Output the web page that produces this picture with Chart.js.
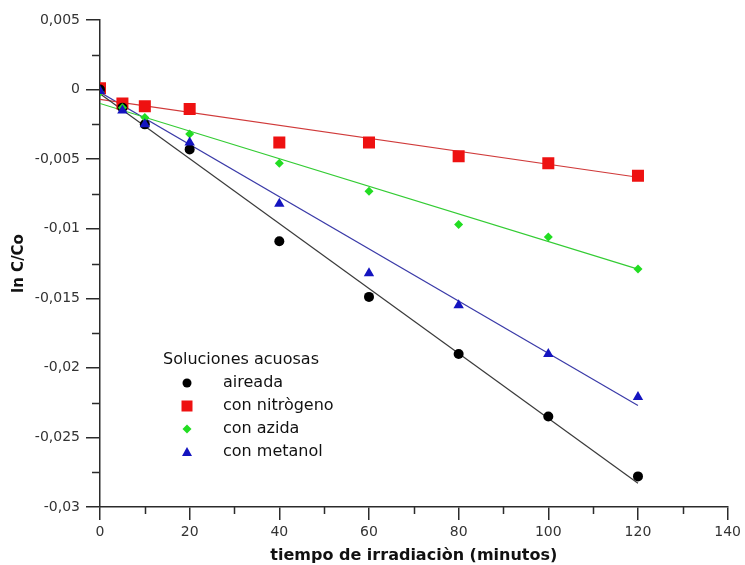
<!DOCTYPE html>
<html>
<head>
<meta charset="utf-8">
<script src="https://cdn.jsdelivr.net/npm/chart.js"></script>
<style>
  html, body { margin: 0; padding: 0; background: #fff; }
  #wrap { width: 745px; height: 565px; }
</style>
</head>
<body>
<div id="wrap"><canvas id="chart" width="745" height="565"></canvas></div>
<script>
// tiempo de irradiación (min)
const tiempos = [0, 5, 10, 20, 40, 60, 80, 100, 120];

// ln C/Co
const aireada = [0, -0.0013, -0.0025, -0.0043, -0.0109, -0.0149, -0.019, -0.0235, -0.0278];
const nitrogeno = [0.0001, -0.001, -0.0012, -0.0014, -0.0038, -0.0038, -0.0048, -0.0053, -0.0062];
const azida = [-0.0002, -0.0013, -0.002, -0.0032, -0.0053, -0.0073, -0.0097, -0.0106, -0.0129];
const metanol = [-0.0001, -0.0015, -0.0025, -0.0038, -0.0082, -0.0132, -0.0155, -0.019, -0.0221];

// fitted lines, end points as drawn
const ajusteX = [0, 120];
const ajusteAireada = [-0.0003, -0.0283];
const ajusteNitrogeno = [-0.0007, -0.0063];
const ajusteAzida = [-0.001, -0.0129];
const ajusteMetanol = [-0.0002, -0.0227];

const xMinor = [10, 30, 50, 70, 90, 110, 130];
const yMinor = [0.0025, -0.0025, -0.0075, -0.0125, -0.0175, -0.0225, -0.0275];

const legendTitle = "Soluciones acuosas";
const legendLabels = ["aireada", "con nitrògeno", "con azida", "con metanol"];

const FONT = "'DejaVu Sans', sans-serif";
const AXIS = "#2b2b2b";

const pts = (ys) => ys.map((y, i) => ({ x: tiempos[i], y: y }));
const fit = (ys) => ys.map((y, i) => ({ x: ajusteX[i], y: y }));

const marcas = [
  { data: aireada, fit: ajusteAireada, color: "#000000", line: "#3a3a3a", style: "circle", r: 5 },
  { data: nitrogeno, fit: ajusteNitrogeno, color: "#ee1111", line: "#d03a3a", style: "rect", r: 8.5 },
  { data: azida, fit: ajusteAzida, color: "#22dd22", line: "#33cc33", style: "rectRot", r: 4.5 },
  { data: metanol, fit: ajusteMetanol, color: "#1414c0", line: "#3a3aa8", style: "triangle", r: 6 }
];

const datasets = [];
marcas.forEach((m, i) => {
  datasets.push({
    label: legendLabels[i] + " ajuste",
    data: fit(m.fit),
    borderColor: m.line,
    borderWidth: 1.2,
    pointRadius: 0,
    showLine: true,
    order: 10
  });
});
// draw order: blue on top, then green, black, red
const orden = [3, 4, 2, 1];
marcas.forEach((m, i) => {
  datasets.push({
    label: legendLabels[i],
    data: pts(m.data),
    showLine: false,
    pointStyle: m.style,
    pointRadius: m.r,
    pointHoverRadius: m.r,
    backgroundColor: m.color,
    borderColor: m.color,
    borderWidth: 0,
    order: orden[i]
  });
});

const fmt = (v) => {
  const r = Math.round(v * 10000) / 10000;
  return String(r === 0 ? 0 : r).replace(".", ",");
};

const extras = {
  id: "extras",
  afterDraw(chart) {
    const ctx = chart.ctx;
    const xs = chart.scales.x, ys = chart.scales.y;
    const area = chart.chartArea;
    ctx.save();
    ctx.strokeStyle = AXIS;
    ctx.lineWidth = 1.5;
    ctx.beginPath();
    xMinor.forEach(v => {
      const px = Math.round(xs.getPixelForValue(v)) + 0.5;
      ctx.moveTo(px, area.bottom);
      ctx.lineTo(px, area.bottom + 7);
    });
    yMinor.forEach(v => {
      const py = Math.round(ys.getPixelForValue(v)) + 0.5;
      ctx.moveTo(area.left - 8, py);
      ctx.lineTo(area.left, py);
    });
    ctx.stroke();

    // legend
    ctx.fillStyle = "#111";
    ctx.font = "16px " + FONT;
    ctx.textBaseline = "middle";
    ctx.textAlign = "left";
    ctx.fillText(legendTitle, 163, 360);
    const mx = 187, lx = 223;
    legendLabels.forEach((lab, i) => {
      const y = 383 + i * 23;
      const m = marcas[i];
      ctx.fillStyle = m.color;
      ctx.beginPath();
      if (m.style === "circle") {
        ctx.arc(mx, y, 4.5, 0, Math.PI * 2);
      } else if (m.style === "rect") {
        ctx.rect(mx - 5.5, y - 5.5, 11, 11);
      } else if (m.style === "rectRot") {
        ctx.moveTo(mx, y - 4.5); ctx.lineTo(mx + 4.5, y); ctx.lineTo(mx, y + 4.5); ctx.lineTo(mx - 4.5, y);
        ctx.closePath();
      } else {
        ctx.moveTo(mx, y - 5); ctx.lineTo(mx + 5, y + 4); ctx.lineTo(mx - 5, y + 4);
        ctx.closePath();
      }
      ctx.fill();
      ctx.fillStyle = "#111";
      ctx.fillText(lab, lx, y);
    });
    ctx.restore();
  }
};

new Chart(document.getElementById("chart"), {
  type: "scatter",
  data: { datasets: datasets },
  plugins: [extras],
  options: {
    responsive: false,
    animation: false,
    layout: { padding: { top: 20, right: 15, left: 0, bottom: 0 } },
    plugins: {
      legend: { display: false },
      tooltip: { enabled: false }
    },
    scales: {
      x: {
        type: "linear",
        min: 0,
        max: 140,
        afterFit: (s) => { s.height = 58; },
        ticks: {
          stepSize: 20,
          color: "#333",
          padding: 4,
          maxRotation: 0,
          font: { family: FONT, size: 14 }
        },
        grid: {
          drawOnChartArea: false,
          drawTicks: true,
          tickLength: 13,
          color: AXIS,
          lineWidth: 1.5
        },
        border: { display: true, color: AXIS, width: 1.5 },
        title: {
          display: true,
          text: "tiempo de irradiaciòn (minutos)",
          color: "#111",
          padding: { top: 0, bottom: 0 },
          font: { family: FONT, size: 16, weight: "bold" }
        }
      },
      y: {
        type: "linear",
        min: -0.03,
        max: 0.005,
        afterFit: (s) => { s.width = 100; },
        ticks: {
          stepSize: 0.005,
          color: "#333",
          padding: 6,
          callback: fmt,
          font: { family: FONT, size: 14 }
        },
        grid: {
          drawOnChartArea: false,
          drawTicks: true,
          tickLength: 14,
          color: AXIS,
          lineWidth: 1.5
        },
        border: { display: true, color: AXIS, width: 1.5 },
        title: {
          display: true,
          text: "ln C/Co",
          color: "#111",
          padding: { top: 10, bottom: 0 },
          font: { family: FONT, size: 15, weight: "bold" }
        }
      }
    }
  }
});
</script>
</body>
</html>
